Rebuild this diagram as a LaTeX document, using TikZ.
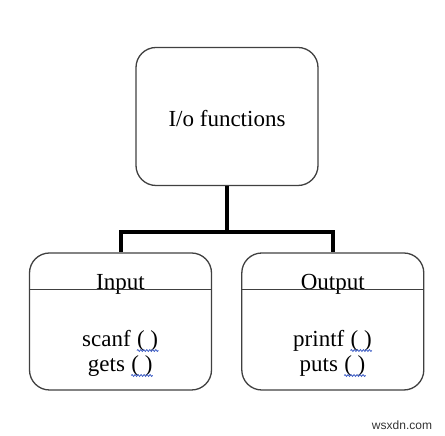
\documentclass[tikz,border=0pt]{standalone}
\usepackage{fontspec}
\setmainfont{Liberation Serif}
\newfontfamily\markfont{Liberation Sans}
\usetikzlibrary{positioning,calc,decorations.pathmorphing}
\definecolor{BoxGray}{HTML}{404040}
\definecolor{SpellBlue}{HTML}{3B5BC4}
\newcommand{\spellparen}{\tikz[baseline=(p.base)]{\node[inner sep=0pt] (p) {( )};
  \draw[SpellBlue,line width=0.8pt,decorate,decoration={snake,amplitude=0.9pt,segment length=3pt}] ([yshift=1pt]p.south west) -- ([yshift=1pt]p.south east);}}

\begin{document}
\begin{tikzpicture}[x=1pt,y=1pt,
    box/.style={draw=BoxGray,line width=1.3pt,rounded corners=20pt,minimum width=182pt,minimum height=138pt,inner sep=0pt},
    txt/.style={font=\fontsize{23}{25}\selectfont,align=center,inner sep=0pt},
    link/.style={line width=4pt}]
  \useasboundingbox (0,0) rectangle (445,436);
  \node[box] (io) at (227,319.5) {};
  \node[txt] (iotxt) at ([yshift=-2pt]io.center) {I/o functions};
  \node[box,minimum height=137pt] (in) at (120.5,114.5) {};
  \node[box,minimum height=137pt,right=29pt of in] (out) {};

  \node[txt,anchor=base] (inlbl) at ([yshift=-37pt]in.north) {Input};
  \node[txt,anchor=base] (outlbl) at ([yshift=-37pt]out.north) {Output};
  \draw[BoxGray,line width=1.3pt] (in.west |- inlbl.base) -- (in.east |- inlbl.base);
  \draw[BoxGray,line width=1.3pt] (out.west |- outlbl.base) -- (out.east |- outlbl.base);

  \node[txt] (infn) at ([yshift=-32pt]in.center) {scanf \spellparen\\gets \spellparen};
  \node[txt] (outfn) at ([yshift=-32pt]out.center) {printf \spellparen\\puts \spellparen};

  \draw[link] (io.south) -- ++(0,-46) coordinate (split) -| (in.north);
  \draw[link] (split) -| (out.north);

  \node[font=\markfont\fontsize{12}{12}\selectfont,text=black!80] (mark) at (402,11) {wsxdn.com};
\end{tikzpicture}
\end{document}
